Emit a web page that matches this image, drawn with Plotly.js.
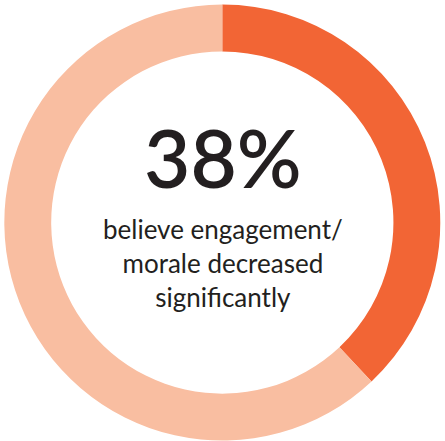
<!DOCTYPE html>
<html>
<head>
<meta charset="utf-8">
<script src="https://cdn.plot.ly/plotly-3.0.1.min.js"></script>
<style>html,body{margin:0;padding:0;background:#fff;}#chart{width:445px;height:441px;}</style>
</head>
<body>
<div id="chart"></div>
<script>
const labels = ["Decreased significantly", "Other"];
const values = [38, 62];
const colors = ["#F26535", "#F9BEA1"];
const bigLabel = "38%";
const caption = ["believe engagement/", "morale decreased", "significantly"];

const trace = {
  type: "pie",
  labels: labels,
  values: values,
  hole: 0.785,
  sort: false,
  direction: "clockwise",
  rotation: 0,
  marker: { colors: colors, line: { width: 0 } },
  textinfo: "none",
  hoverinfo: "none",
  showlegend: false,
  domain: { x: [0.0097, 0.9894], y: [0.001, 0.9898] }
};

const layout = {
  width: 445,
  height: 441,
  margin: { l: 0, r: 0, t: 0, b: 0 },
  paper_bgcolor: "#ffffff",
  plot_bgcolor: "#ffffff",
  showlegend: false,
  annotations: [
    {
      text: bigLabel, x: 0.5, y: 1 - 157 / 441, xref: "paper", yref: "paper",
      showarrow: false, xanchor: "center", yanchor: "middle",
      font: { family: "Lato, 'Noto Sans', sans-serif", size: 80, color: "#231F20", weight: 600 }
    },
    {
      text: caption.join("<br>"), x: 0.5, y: 1 - 263 / 441, xref: "paper", yref: "paper",
      showarrow: false, xanchor: "center", yanchor: "middle", align: "center",
      font: { family: "Lato, 'Noto Sans', sans-serif", size: 26, color: "#231F20" }
    }
  ]
};

Plotly.newPlot("chart", [trace], layout, { displayModeBar: false, staticPlot: true });
</script>
</body>
</html>
